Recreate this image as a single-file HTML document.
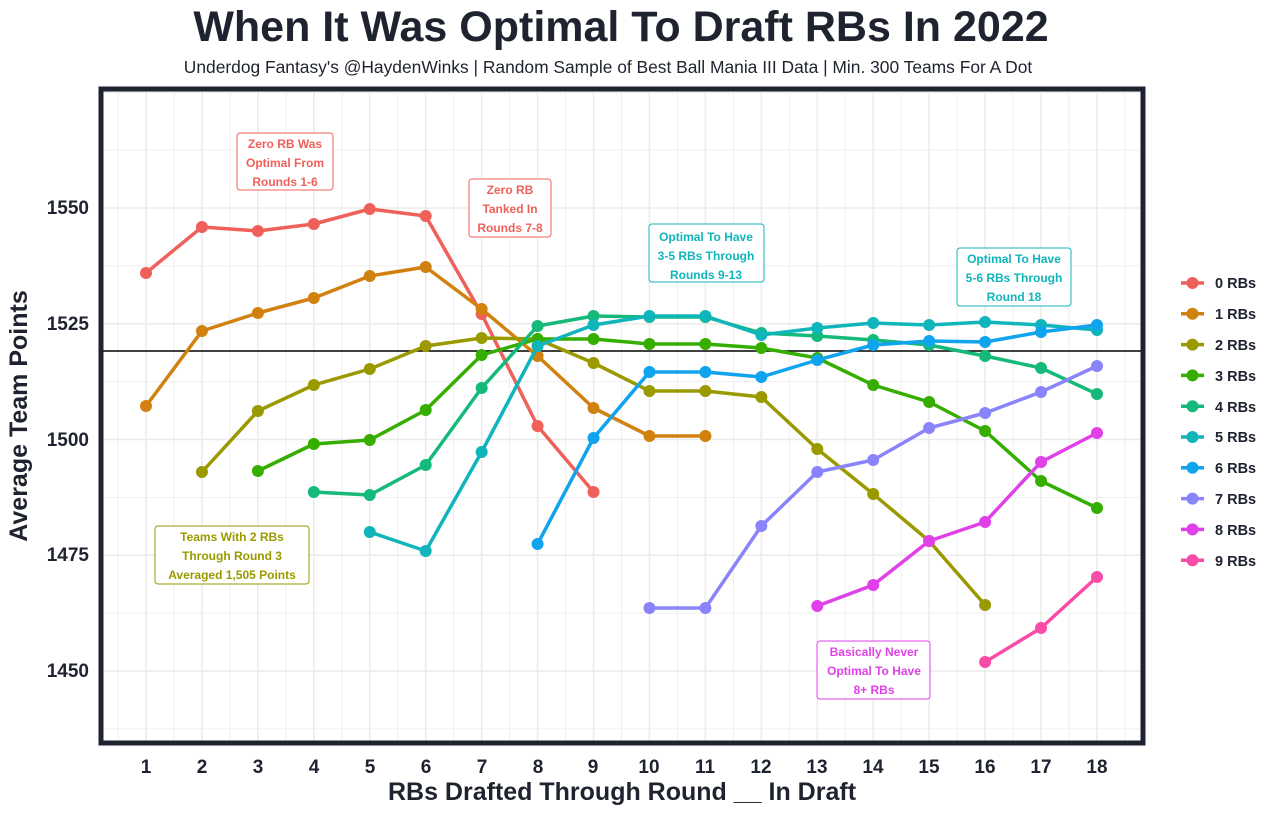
<!DOCTYPE html>
<html><head><meta charset="utf-8"><style>
body{margin:0;background:#fff;}
svg{display:block;font-family:"Liberation Sans",sans-serif;}
</style></head><body>
<svg id="s" width="1280" height="815" xmlns="http://www.w3.org/2000/svg">
<rect width="1280" height="815" fill="#fff"/>
<g id="grid"></g>
<line x1="101" x2="1143" y1="351" y2="351" stroke="#000" stroke-width="1.6"/>
<g id="series"></g>
<rect x="101" y="89" width="1042" height="654" fill="none" stroke="#1f2330" stroke-width="5"/>
<text x="621" y="41" text-anchor="middle" font-size="43" font-weight="bold" fill="#1f2330">When It Was Optimal To Draft RBs In 2022</text>
<text x="608" y="73" text-anchor="middle" font-size="17.4" fill="#1f2330">Underdog Fantasy's @HaydenWinks | Random Sample of Best Ball Mania III Data | Min. 300 Teams For A Dot</text>
<text transform="translate(27,416) rotate(-90)" text-anchor="middle" font-size="25" font-weight="bold" fill="#1f2330">Average Team Points</text>
<text x="622" y="800" text-anchor="middle" font-size="25" font-weight="bold" fill="#1f2330">RBs Drafted Through Round __ In Draft</text>
<g font-size="19" font-weight="bold" fill="#1f2330" text-anchor="end">
<text x="89" y="214">1550</text><text x="89" y="330">1525</text><text x="89" y="446">1500</text><text x="89" y="561">1475</text><text x="89" y="677">1450</text>
</g>
<g id="xt" font-size="19" font-weight="bold" fill="#1f2330" text-anchor="middle">
<text x="146" y="773">1</text><text x="202" y="773">2</text><text x="258" y="773">3</text><text x="314" y="773">4</text><text x="370" y="773">5</text><text x="426" y="773">6</text><text x="482" y="773">7</text><text x="538" y="773">8</text><text x="593" y="773">9</text><text x="649" y="773">10</text><text x="705" y="773">11</text><text x="761" y="773">12</text><text x="817" y="773">13</text><text x="873" y="773">14</text><text x="929" y="773">15</text><text x="985" y="773">16</text><text x="1041" y="773">17</text><text x="1097" y="773">18</text>
</g>
<g id="legend" font-size="14.5" font-weight="bold" fill="#1f2330">
<text x="1215" y="288">0 RBs</text><text x="1215" y="319">1 RBs</text><text x="1215" y="350">2 RBs</text><text x="1215" y="381">3 RBs</text><text x="1215" y="412">4 RBs</text><text x="1215" y="442">5 RBs</text><text x="1215" y="473">6 RBs</text><text x="1215" y="504">7 RBs</text><text x="1215" y="535">8 RBs</text><text x="1215" y="566">9 RBs</text>
</g>
<g font-size="12" font-weight="bold" text-anchor="middle">
<rect x="237" y="133" width="96" height="57" rx="3" fill="#fff" stroke="#F0605A"/>
<text fill="#F0605A"><tspan x="285" y="148">Zero RB Was</tspan><tspan x="285" y="167">Optimal From</tspan><tspan x="285" y="186">Rounds 1-6</tspan></text>
<rect x="469" y="179" width="82" height="58" rx="3" fill="#fff" stroke="#F0605A"/>
<text fill="#F0605A"><tspan x="510" y="194">Zero RB</tspan><tspan x="510" y="213">Tanked In</tspan><tspan x="510" y="232">Rounds 7-8</tspan></text>
<rect x="649" y="224" width="115" height="58" rx="3" fill="#fff" stroke="#10B5BC"/>
<text fill="#10B5BC"><tspan x="706" y="241">Optimal To Have</tspan><tspan x="706" y="260">3-5 RBs Through</tspan><tspan x="706" y="279">Rounds 9-13</tspan></text>
<rect x="957" y="248" width="114" height="58" rx="3" fill="#fff" stroke="#10B5BC"/>
<text fill="#10B5BC"><tspan x="1014" y="263">Optimal To Have</tspan><tspan x="1014" y="282">5-6 RBs Through</tspan><tspan x="1014" y="301">Round 18</tspan></text>
<rect x="155" y="526" width="154" height="58" rx="3" fill="#fff" stroke="#9A9A00"/>
<text fill="#9A9A00"><tspan x="232" y="541">Teams With 2 RBs</tspan><tspan x="232" y="560">Through Round 3</tspan><tspan x="232" y="579">Averaged 1,505 Points</tspan></text>
<rect x="817" y="641" width="113" height="58" rx="3" fill="#fff" stroke="#E040E8"/>
<text fill="#E040E8"><tspan x="874" y="656">Basically Never</tspan><tspan x="874" y="675">Optimal To Have</tspan><tspan x="874" y="694">8+ RBs</tspan></text>
</g>
</svg>
<script>
var NS="http://www.w3.org/2000/svg";
function el(p,t,a){var e=document.createElementNS(NS,t);for(var k in a)e.setAttribute(k,a[k]);p.appendChild(e);return e;}
var g=document.getElementById('grid');
function X(r){return 146+(r-1)*55.94;}
for(var v=1437.5;v<1580;v+=12.5){var y=208+(1550-v)*4.63;if(y>89&&y<743)el(g,'line',{x1:101,x2:1143,y1:y,y2:y,stroke:'#EBEBEB','stroke-width':(v%25==0?1.6:0.8)});}
for(var r=0.5;r<=18.5;r+=0.5){var x=X(r);if(x>101&&x<1143)el(g,'line',{x1:x,x2:x,y1:89,y2:743,stroke:'#EBEBEB','stroke-width':(r%1==0?1.6:0.8)});}
var cols=['#F0605A','#D1810F','#9A9A00','#35AE00','#15B97A','#10B5BC','#10A3EE','#8A84FA','#E040E8','#FA4BA8'];
var D=[
[1,[273,227,231,224,209,216,314,426,492]],
[1,[406,331,313,298,276,267,309,356,408,436,436]],
[2,[472,411,385,369,346,338,339,363,391,391,397,449,494,541,605]],
[3,[471,444,440,410,355,339,339,344,344,348,358,385,402,431,481,508]],
[4,[492,495,465,388,326,316,317,317,333,336,340,345,356,368,394]],
[5,[532,551,452,346,325,316,316,335,328,323,325,322,325,330]],
[8,[544,438,372,372,377,360,345,341,342,332,325]],
[10,[608,608,526,472,460,428,413,392,366]],
[13,[606,585,541,522,462,433]],
[16,[662,628,577]]];
var s=document.getElementById('series');
D.forEach(function(d,i){var pts=d[1].map(function(y,j){return X(d[0]+j)+','+y;}).join(' ');
el(s,'polyline',{points:pts,fill:'none',stroke:cols[i],'stroke-width':3.5,'stroke-linejoin':'round'});
d[1].forEach(function(y,j){el(s,'circle',{cx:X(d[0]+j),cy:y,r:6,fill:cols[i]});});
var ly=283+i*30.8;el(s,'line',{x1:1181,x2:1204,y1:ly,y2:ly,stroke:cols[i],'stroke-width':3.5});el(s,'circle',{cx:1192.5,cy:ly,r:6,fill:cols[i]});});
</script>
</body></html>
